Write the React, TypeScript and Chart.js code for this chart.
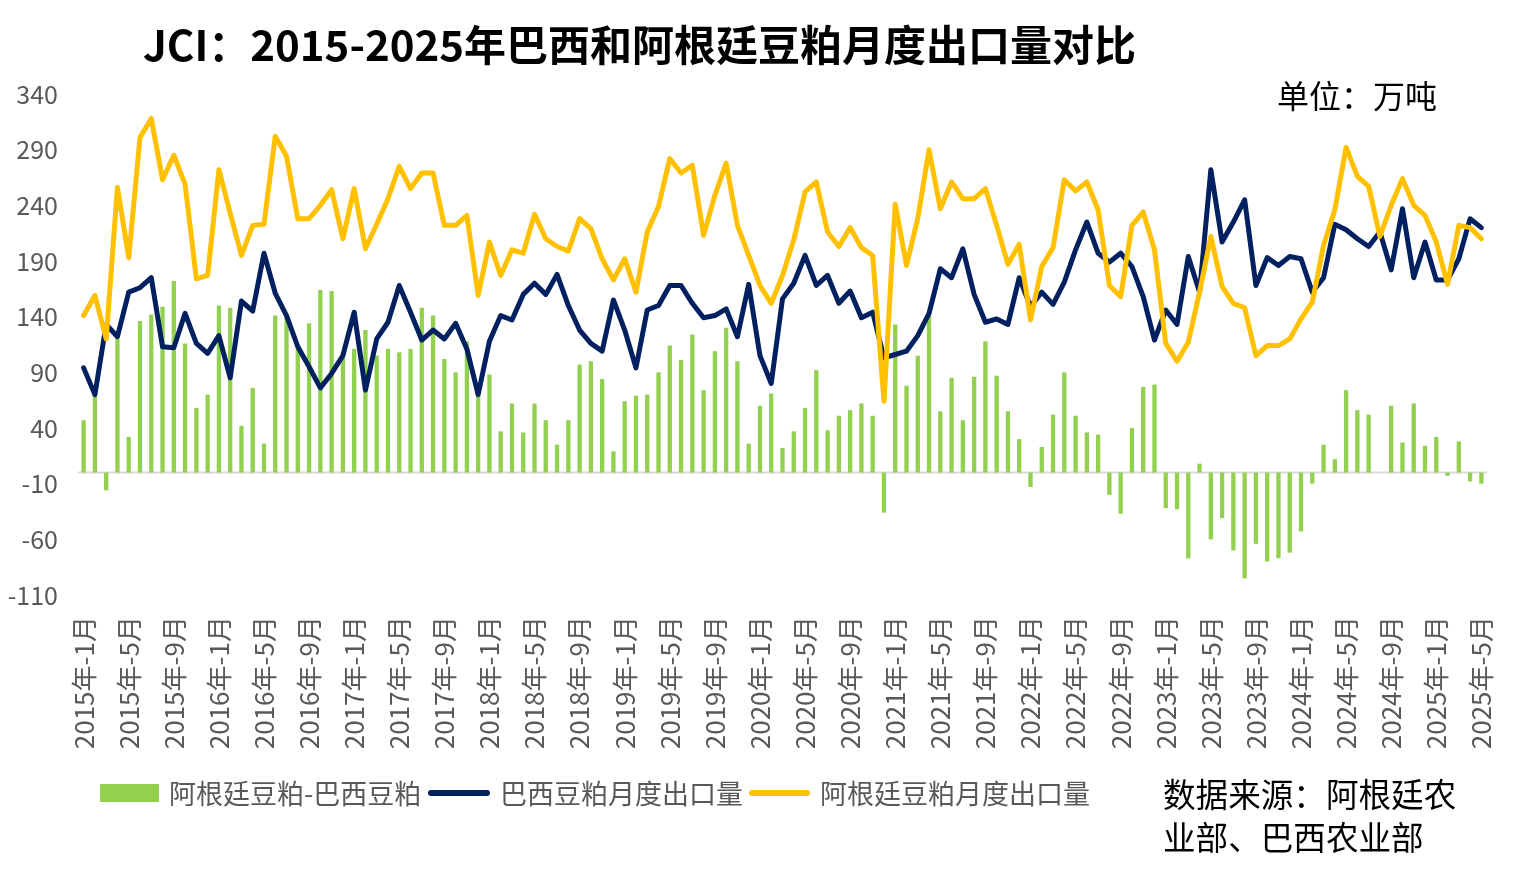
import React, { useEffect, useRef } from "react";
import { Chart, registerables } from "chart.js";

Chart.register(...registerables);

const years = [2015, 2016, 2017, 2018, 2019, 2020, 2021, 2022, 2023, 2024, 2025];
const lastMonthOf2025 = 5;
const categories: string[] = [];
for (const y of years) {
  for (let m = 1; m <= 12; m++) {
    if (y === 2025 && m > lastMonthOf2025) break;
    categories.push(`${y}年-${m}月`);
  }
}

// 巴西豆粕月度出口量（万吨）
const brazil = [
  94, 70, 133, 122, 162, 166, 175, 113, 112, 143, 116, 107,
  123, 85, 154, 145, 197, 161, 141, 113, 95, 76, 89, 105,
  144, 74, 120, 135, 168, 144, 119, 128, 120, 134, 111, 70,
  118, 141, 137, 160, 170, 160, 178, 150, 128, 116, 109, 155,
  128, 94, 146, 150, 168, 168, 152, 139, 141, 147, 122, 169,
  105, 80, 156, 170, 195, 168, 177, 152, 163, 139, 144, 103,
  106, 109, 123, 143, 183, 175, 201, 160, 135, 138, 133, 175,
  149, 162, 151, 171, 200, 225, 197, 189, 197, 185, 158, 119,
  146, 133, 194, 162, 272, 207, 225, 245, 168, 193, 186, 194,
  192, 162, 175, 223, 218, 210, 203, 216, 182, 237, 175, 207,
  173, 173, 192, 228, 220,
];

// 阿根廷豆粕月度出口量（万吨）
const argentina = [
  141, 159, 120, 256, 193, 301, 318, 263, 285, 259, 174, 177,
  272, 233, 195, 222, 223, 302, 284, 228, 228, 240, 254, 210,
  255, 201, 223, 246, 275, 255, 269, 269, 222, 222, 231, 159,
  207, 177, 200, 197, 232, 210, 203, 199, 228, 219, 192, 173,
  192, 162, 216, 239, 282, 269, 276, 213, 249, 278, 222, 195,
  168, 152, 177, 209, 252, 261, 216, 203, 220, 202, 195, 64,
  241, 186, 228, 290, 237, 261, 246, 246, 255, 222, 187, 205,
  137, 185, 202, 263, 253, 261, 236, 168, 158, 222, 234, 200,
  116, 100, 117, 162, 212, 167, 152, 148, 105, 114, 114, 120,
  138, 153, 204, 236, 292, 266, 257, 212, 240, 264, 240, 231,
  207, 169, 222, 220, 210,
];

// 阿根廷豆粕-巴西豆粕
const difference = [
  47, 70, -16, 120, 32, 136, 142, 149, 172, 116, 58, 70,
  150, 148, 42, 76, 26, 141, 139, 112, 134, 164, 163, 108,
  111, 128, 105, 111, 108, 111, 148, 141, 102, 90, 118, 70,
  88, 37, 62, 36, 62, 47, 25, 47, 97, 100, 84, 19,
  64, 69, 70, 90, 114, 101, 124, 74, 109, 130, 100, 26,
  60, 71, 22, 37, 58, 92, 38, 51, 56, 62, 51, -36,
  133, 78, 105, 142, 55, 85, 47, 86, 118, 87, 55, 30,
  -13, 23, 52, 90, 51, 36, 34, -20, -37, 40, 77, 79,
  -32, -33, -77, 8, -60, -41, -70, -95, -64, -80, -77, -72,
  -53, -10, 25, 12, 74, 56, 52, 0, 60, 27, 62, 24,
  32, -3, 28, -8, -10,
];

const seriesNames = ["阿根廷豆粕-巴西豆粕", "巴西豆粕月度出口量", "阿根廷豆粕月度出口量"];
const yMin = -110;
const yMax = 340;
const yStep = 50;

const GREEN = "#92D050";
const NAVY = "#002060";
const YELLOW = "#FFC000";
const FONT = "'Noto Sans CJK SC', 'Noto Sans', sans-serif";

const zeroLinePlugin = {
  id: "zeroLine",
  beforeDatasetsDraw(chart: any) {
    const { ctx, chartArea, scales } = chart;
    const y = scales.y.getPixelForValue(0);
    ctx.save();
    ctx.strokeStyle = "#D9D9D9";
    ctx.lineWidth = 2;
    ctx.beginPath();
    ctx.moveTo(chartArea.left, y);
    ctx.lineTo(chartArea.right, y);
    ctx.stroke();
    ctx.restore();
  },
};

export default function App() {
  const canvasRef = useRef<HTMLCanvasElement | null>(null);

  useEffect(() => {
    if (!canvasRef.current) return;
    const chart = new Chart(canvasRef.current, {
      type: "bar",
      data: {
        labels: categories,
        datasets: [
          {
            type: "bar",
            label: seriesNames[0],
            data: difference,
            backgroundColor: GREEN,
            barPercentage: 0.38,
            categoryPercentage: 1,
            order: 3,
          },
          {
            type: "line",
            label: seriesNames[1],
            data: brazil,
            borderColor: NAVY,
            backgroundColor: NAVY,
            borderWidth: 5,
            pointRadius: 0,
            tension: 0,
            borderJoinStyle: "round",
            borderCapStyle: "round",
            order: 2,
          },
          {
            type: "line",
            label: seriesNames[2],
            data: argentina,
            borderColor: YELLOW,
            backgroundColor: YELLOW,
            borderWidth: 5,
            pointRadius: 0,
            tension: 0,
            borderJoinStyle: "round",
            borderCapStyle: "round",
            order: 1,
          },
        ] as any,
      },
      options: {
        animation: false,
        responsive: true,
        maintainAspectRatio: false,
        layout: { padding: { top: 94, right: 26, left: 0, bottom: 0 } },
        plugins: {
          legend: { display: false },
          tooltip: { enabled: false },
          title: { display: false },
        },
        scales: {
          x: {
            grid: { display: false, drawTicks: false },
            border: { display: false },
            afterFit(scale: any) {
              scale.height = 281;
              scale.paddingLeft = 0;
              scale.paddingRight = 0;
            },
            ticks: {
              autoSkip: false,
              minRotation: 90,
              maxRotation: 90,
              padding: 21,
              color: "#595959",
              font: { family: FONT, size: 26 },
              callback: (_v: any, index: number) => (index % 4 === 0 ? categories[index] : null),
            },
          },
          y: {
            min: yMin,
            max: yMax,
            grid: { display: false, drawTicks: false },
            border: { display: false },
            afterFit(scale: any) {
              scale.width = 78;
              scale.paddingTop = 0;
              scale.paddingBottom = 0;
            },
            ticks: {
              stepSize: yStep,
              padding: 20,
              color: "#595959",
              font: { family: FONT, size: 25 },
            },
          },
        },
      },
      plugins: [zeroLinePlugin],
    });
    return () => chart.destroy();
  }, []);

  const legendText: React.CSSProperties = {
    position: "absolute",
    top: 778,
    fontFamily: FONT,
    fontSize: 27,
    lineHeight: "30px",
    color: "#595959",
    whiteSpace: "nowrap",
  };

  return (
    <div
      style={{
        position: "absolute",
        left: 0,
        top: 0,
        width: 1513,
        height: 876,
        background: "#fff",
        overflow: "hidden",
      }}
    >
      <div style={{ position: "absolute", left: 0, top: 0, width: 1513, height: 876 }}>
        <canvas ref={canvasRef} />
      </div>
      <div
        style={{
          position: "absolute",
          left: 143,
          top: 20,
          fontFamily: FONT,
          fontWeight: 700,
          fontSize: 42,
          lineHeight: "46px",
          color: "#000",
          whiteSpace: "nowrap",
        }}
      >
        JCI：2015-2025年巴西和阿根廷豆粕月度出口量对比
      </div>
      <div
        style={{
          position: "absolute",
          left: 1277,
          top: 76,
          fontFamily: FONT,
          fontSize: 32,
          lineHeight: "36px",
          color: "#000",
          whiteSpace: "nowrap",
        }}
      >
        单位：万吨
      </div>
      <div
        style={{
          position: "absolute",
          left: 1163,
          top: 771,
          fontFamily: FONT,
          fontSize: 32.6,
          lineHeight: "43px",
          color: "#000",
          whiteSpace: "nowrap",
        }}
      >
        数据来源：阿根廷农
        <br />
        业部、巴西农业部
      </div>
      <div style={{ position: "absolute", left: 100, top: 784, width: 59, height: 18, background: GREEN }} />
      <div style={{ ...legendText, left: 169 }}>{seriesNames[0]}</div>
      <div style={{ position: "absolute", left: 428, top: 790, width: 62, height: 6, borderRadius: 3, background: NAVY }} />
      <div style={{ ...legendText, left: 500 }}>{seriesNames[1]}</div>
      <div style={{ position: "absolute", left: 749, top: 790, width: 61, height: 6, borderRadius: 3, background: YELLOW }} />
      <div style={{ ...legendText, left: 820 }}>{seriesNames[2]}</div>
    </div>
  );
}
